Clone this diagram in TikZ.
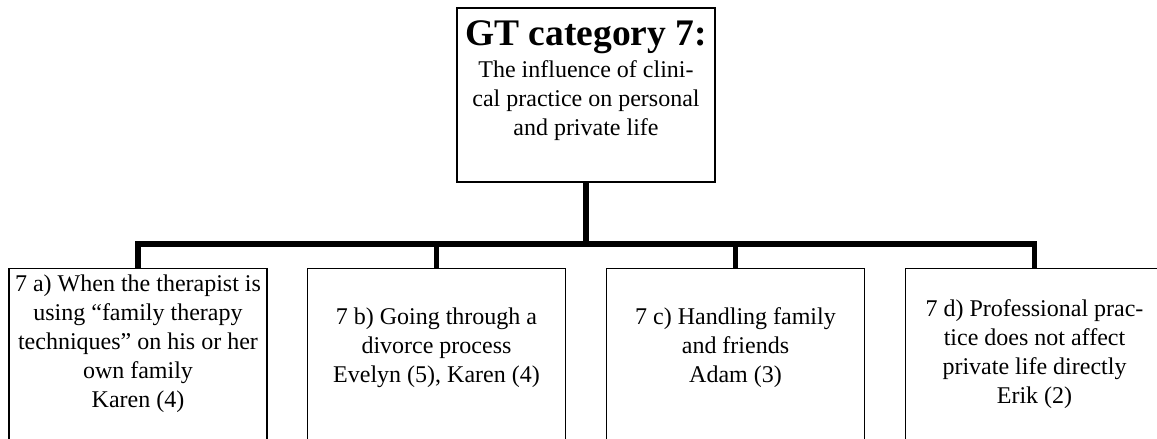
\documentclass[tikz,border=0pt]{standalone}
\usepackage{fontspec}
\setmainfont{Liberation Serif}
\begin{document}
\begin{tikzpicture}[x=1pt,y=-1pt,
  box/.style={draw,line width=1.3pt,inner sep=0pt,minimum width=258pt},
  txt/.style={align=center,inner sep=0pt,font=\fontsize{24}{29}\selectfont},
  bar/.style={line width=5.5pt,line join=miter,line cap=butt}]
\useasboundingbox (0,0) rectangle (1157,439);
\clip (0,0) rectangle (1157,439);
\fill[white] (0,0) rectangle (1157,439);
% top box
\node[box,minimum height=174pt] (top) at (586,95) {};
\node[inner sep=0pt,anchor=base,font=\fontsize{37.5}{40}\selectfont\bfseries] (title) at (586,45) {GT category 7:};
\node[txt,anchor=north] (toptxt) at (586,60) {The influence of clini-\\cal practice on personal\\and private life};
% bottom boxes
\node[box,minimum height=220pt,anchor=north] (a) at (138,268) {};
\node[box,minimum height=220pt,anchor=north] (b) at (436.5,268) {};
\node[box,minimum height=220pt,anchor=north] (c) at (735.5,268) {};
\node[box,minimum height=220pt,anchor=north] (d) at (1034.5,268) {};
\node[txt,anchor=north] (at) at (138,275) {7 a) When the therapist is\\using ``family therapy\\techniques'' on his or her\\own family\\Karen (4)};
\node[txt,anchor=north] (bt) at (436.5,308) {7 b) Going through a\\divorce process\\Evelyn (5), Karen (4)};
\node[txt,anchor=north] (ct) at (735.5,307) {7 c) Handling family\\and friends\\Adam (3)};
\node[txt,anchor=north] (dt) at (1034.5,299) {7 d) Professional prac-\\tice does not affect\\private life directly\\Erik (2)};
% connectors
\coordinate (j) at (586,244);
\draw[bar] (top.south) -- (j);
\draw[bar] (a.north) |- (j) -| (d.north);
\draw[bar] (b.north) -- (b.north |- j);
\draw[bar] (c.north) -- (c.north |- j);
\end{tikzpicture}
\end{document}
